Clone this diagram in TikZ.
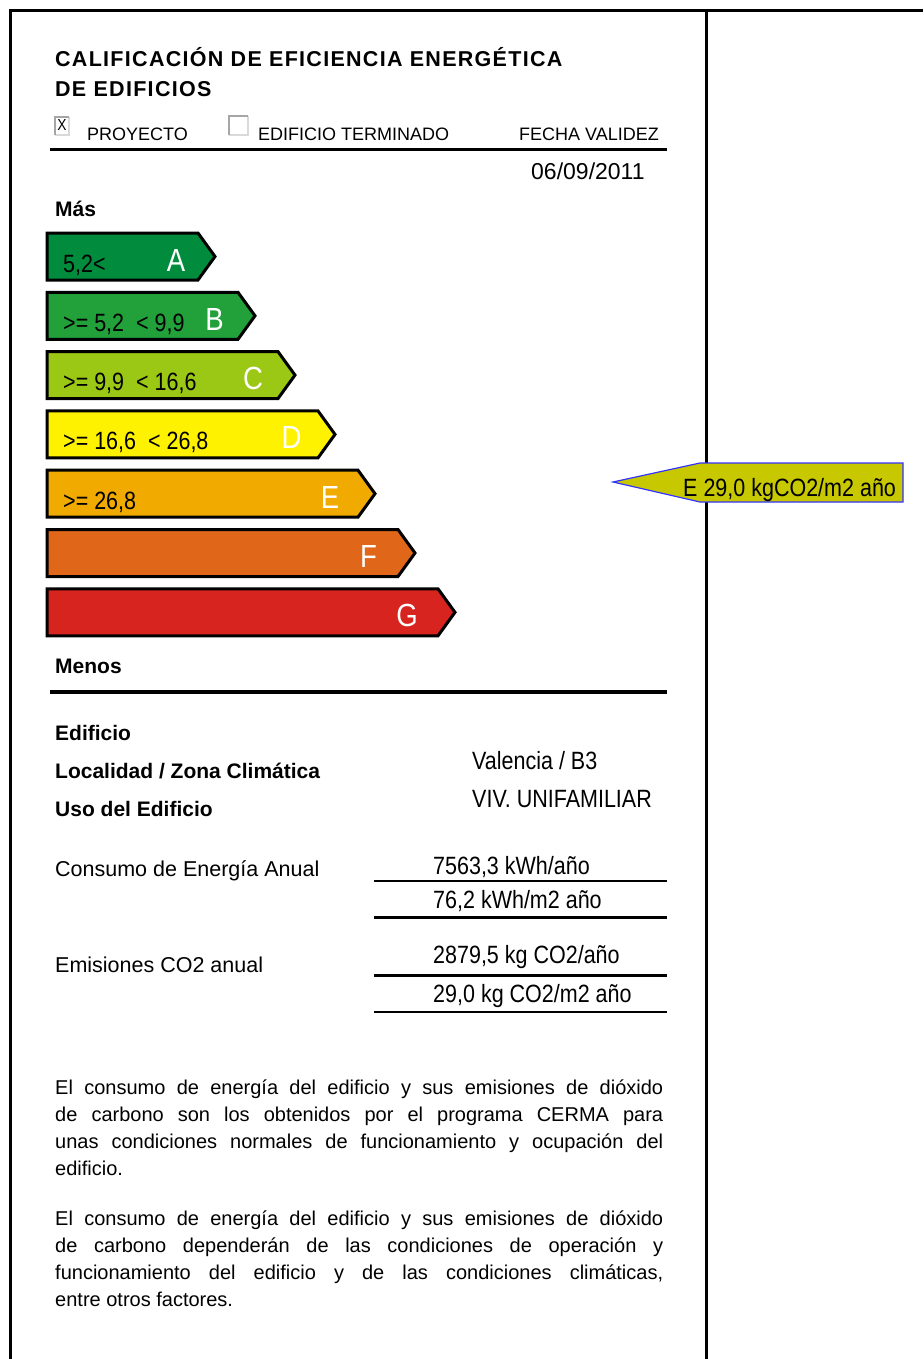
\documentclass[tikz,border=0pt]{standalone}
\usepackage{fontspec}
\setmainfont{Liberation Sans}
\newfontfamily\narrowfont{Liberation Sans}[FakeStretch=0.86]

\definecolor{barA}{RGB}{0,140,60}
\definecolor{barB}{RGB}{34,160,58}
\definecolor{barC}{RGB}{155,200,20}
\definecolor{barD}{RGB}{255,242,0}
\definecolor{barE}{RGB}{240,170,0}
\definecolor{barF}{RGB}{224,102,26}
\definecolor{barG}{RGB}{216,36,30}
\definecolor{calloutfill}{RGB}{200,200,0}
\definecolor{calloutline}{RGB}{50,50,255}

\newcommand{\fsz}[1]{\fontsize{#1}{#1}\selectfont}

\begin{document}
\begin{tikzpicture}[x=1pt,y=-1pt,
    lbl/.style={anchor=base west, inner sep=0pt},
    frame/.style={line width=3pt},
    barline/.style={line width=3pt, line join=miter},
    rangetxt/.style={lbl, font=\narrowfont\fsz{25}},
    lettertxt/.style={anchor=base, inner sep=0pt, text=white, font=\narrowfont\fsz{32}},
    boldtxt/.style={lbl, font=\bfseries\fsz{21}},
    smalltxt/.style={lbl, font=\fsz{18}},
    valtxt/.style={lbl, font=\narrowfont\fsz{25}},
    para/.style={anchor=north west, inner sep=0pt, text width=608pt, align=justify, font=\fontsize{20}{27}\selectfont}]
    \useasboundingbox (0,0) rectangle (923,1359);

    % marco
    \draw[frame] (10,1359) -- (10,11) -- (923,11);
    \draw[frame] (706,11) -- (706,1359);

    % cabecera
    \node[lbl, font=\bfseries\fsz{21.5}\addfontfeature{LetterSpace=6}] (tit1) at (55,67) {CALIFICACIÓN DE EFICIENCIA ENERGÉTICA};
    \node[lbl, font=\bfseries\fsz{21.5}\addfontfeature{LetterSpace=6}] (tit2) at (55,97) {DE EDIFICIOS};

    \draw[gray!30, line width=2pt] (69,117) -- (69,135) -- (55,135);
    \draw[gray!70, line width=2pt] (55,135) -- (55,117) -- (69,117);
    \node[inner sep=0pt, font=\narrowfont\fsz{16}] (chkP) at (62,125) {X};
    \node[smalltxt] (proy) at (87,141) {PROYECTO};
    \draw[gray!30, line width=2pt] (248,116) -- (248,135) -- (229,135);
    \draw[gray!70, line width=2pt] (229,135) -- (229,116) -- (248,116);
    \node[smalltxt] (term) at (258,141) {EDIFICIO TERMINADO};
    \node[smalltxt] (fecha) at (519,141) {FECHA VALIDEZ};
    \draw[line width=3pt] (50,150) -- (667,150);
    \node[lbl, font=\fsz{23}] (dia) at (531,179) {06/09/2011};

    \node[boldtxt] (mas) at (55,216) {Más};

    % escala de letras
    \foreach \i/\lt/\col/\rng in {0/A/barA/{5,2<}, 1/B/barB/{>= 5,2~~< 9,9},
            2/C/barC/{>= 9,9~~< 16,6}, 3/D/barD/{>= 16,6~~< 26,8},
            4/E/barE/{>= 26,8}, 5/F/barF/{}, 6/G/barG/{}}{
        \pgfmathsetmacro\yt{233+59.3*\i}
        \pgfmathsetmacro\yb{\yt+47}
        \pgfmathsetmacro\ym{\yt+23.5}
        \pgfmathsetmacro\xt{215+40*\i}
        \pgfmathsetmacro\xr{\xt-17}
        \draw[barline, fill=\col] (47,\yt) -- (\xr,\yt) -- (\xt,\ym) -- (\xr,\yb) -- (47,\yb) -- cycle;
        \node[rangetxt] (rng\lt) at (63,\yt+39) {\rng};
        \node[lettertxt] (let\lt) at (176+38.5*\i,\yt+38) {\lt};
    }

    \node[boldtxt] (menos) at (55,673) {Menos};
    \draw[line width=4pt] (50,692) -- (667,692);

    % datos del edificio
    \node[boldtxt] (edif) at (55,740) {Edificio};
    \node[boldtxt] (local) at (55,778) {Localidad / Zona Climática};
    \node[boldtxt] (uso) at (55,816) {Uso del Edificio};
    \node[valtxt] (zona) at (472,769) {Valencia / B3};
    \node[valtxt] (viv) at (472,807) {VIV. UNIFAMILIAR};

    \node[lbl, font=\fsz{21.5}] (cons) at (55,876) {Consumo de Energía Anual};
    \node[valtxt] (kwh) at (433,874) {7563,3 kWh/año};
    \draw[line width=1.5pt] (374,881) -- (667,881);
    \node[valtxt] (kwhm) at (433,908) {76,2 kWh/m2 año};
    \draw[line width=3pt] (374,917) -- (667,917);

    \node[lbl, font=\fsz{21.5}] (emis) at (55,972) {Emisiones CO2 anual};
    \node[valtxt] (co) at (433,963) {2879,5 kg CO2/año};
    \draw[line width=3pt] (374,975) -- (667,975);
    \node[valtxt] (com) at (433,1002) {29,0 kg CO2/m2 año};
    \draw[line width=1.5pt] (374,1012) -- (667,1012);

    % notas
    \node[para] (nota1) at (55,1080) {El consumo de energía del edificio y sus emisiones de dióxido\linebreak
        de carbono son los obtenidos por el programa CERMA para\linebreak
        unas condiciones normales de funcionamiento y ocupación del\linebreak
        edificio.};
    \node[para] (nota2) at (55,1211) {El consumo de energía del edificio y sus emisiones de dióxido\linebreak
        de carbono dependerán de las condiciones de operación y\linebreak
        funcionamiento del edificio y de las condiciones climáticas,\linebreak
        entre otros factores.};

    % indicador
    \draw[calloutline, fill=calloutfill, line width=1.2pt] (613,482) -- (700,463) -- (903,463) -- (903,502) -- (700,502) -- cycle;
    \node[valtxt] (indE) at (683,496) {E 29,0 kgCO2/m2 año};
\end{tikzpicture}
\end{document}
